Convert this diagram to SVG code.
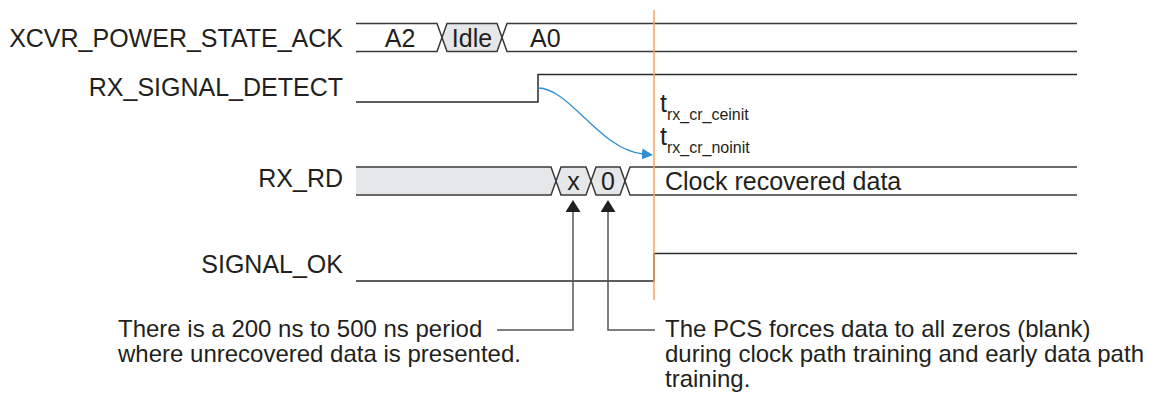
<svg xmlns="http://www.w3.org/2000/svg" width="1165" height="399" viewBox="0 0 1165 399">
<defs>
<style>
text{font-family:"Liberation Sans",Arial,sans-serif;fill:#231f20;}
.lbl{font-size:25px;text-anchor:end;}
.val{font-size:25px;text-anchor:middle;}
.txt{font-size:25px;}
.note{font-size:24px;}
.sub{font-size:16px;}
.bus{fill:none;stroke:#3a3a3a;stroke-width:1.5;}
.sig{fill:none;stroke:#2a2a2a;stroke-width:1.5;}
.shade{fill:#e6e7e8;stroke:none;}
.lead{fill:none;stroke:#555;stroke-width:1.5;}
</style>
<marker id="arrUp" viewBox="0 0 12 15" refX="0" refY="7.5" markerWidth="12" markerHeight="15" markerUnits="userSpaceOnUse" orient="auto"><path d="M0,0 L12,7.5 L0,15 z" fill="#231f20"/></marker>
<marker id="arrBlue" viewBox="0 0 11 11" refX="1" refY="5.5" markerWidth="11" markerHeight="11" markerUnits="userSpaceOnUse" orient="auto"><path d="M0,0 L11,5.5 L0,11 z" fill="#2f8fd0"/></marker>
</defs>
<rect width="1165" height="399" fill="#ffffff"/>

<g id="xcvr_power_state_ack">
<text class="lbl" x="343" y="47">XCVR_POWER_STATE_ACK</text>
<polygon class="shade" points="442,37.5 447,23.5 497,23.5 502,37.5 497,51.5 447,51.5"/>
<polyline class="bus" points="356,23.5 437,23.5 442,37.5 437,51.5 356,51.5"/>
<polygon class="bus" points="442,37.5 447,23.5 497,23.5 502,37.5 497,51.5 447,51.5"/>
<polyline class="bus" points="1077,23.5 507,23.5 502,37.5 507,51.5 1077,51.5"/>
<text class="val" x="400" y="47">A2</text>
<text class="val" x="472" y="47">Idle</text>
<text class="txt" x="530" y="47">A0</text>
</g>

<g id="rx_signal_detect">
<text class="lbl" x="343" y="96">RX_SIGNAL_DETECT</text>
<polyline class="sig" points="356,102 538,102 538,74.5 1077,74.5"/>
</g>

<g id="rx_rd">
<text class="lbl" x="343" y="187">RX_RD</text>
<polygon class="shade" points="356,167 551,167 556,181 551,195 356,195"/>
<polygon class="shade" points="556,181 561,167 586,167 591,181 586,195 561,195"/>
<polygon class="shade" points="591,181 596,167 620,167 625,181 620,195 596,195"/>
<polyline class="bus" points="356,167 551,167 556,181 551,195 356,195"/>
<polygon class="bus" points="556,181 561,167 586,167 591,181 586,195 561,195"/>
<polygon class="bus" points="591,181 596,167 620,167 625,181 620,195 596,195"/>
<polyline class="bus" points="1077,167 630,167 625,181 630,195 1077,195"/>
<text class="val" x="573.5" y="190">x</text>
<text class="val" x="608" y="190">0</text>
<text class="txt" x="665" y="190">Clock recovered data</text>
</g>

<g id="signal_ok">
<text class="lbl" x="343" y="273">SIGNAL_OK</text>
<polyline class="sig" points="356,281 654,281 654,253.5 1077,253.5"/>
</g>

<g id="timing_marker">
<line x1="654" y1="10" x2="654" y2="300" stroke="#f5a462" stroke-width="1.5"/>
<text class="txt" x="660" y="112">t<tspan class="sub" dy="8">rx_cr_ceinit</tspan></text>
<text class="txt" x="660" y="145">t<tspan class="sub" dy="8">rx_cr_noinit</tspan></text>
</g>

<g id="note_unrecovered">
<text class="note" x="118" y="337">There is a 200 ns to 500 ns period</text>
<text class="note" x="118" y="362">where unrecovered data is presented.</text>
</g>

<g id="note_zeros">
<text class="note" x="665" y="337">The PCS forces data to all zeros (blank)</text>
<text class="note" x="665" y="362">during clock path training and early data path</text>
<text class="note" x="665" y="387">training.</text>
</g>

<g id="connectors">
<path d="M538,88 C570,88 600,150 643,154" fill="none" stroke="#2f8fd0" stroke-width="1.3" marker-end="url(#arrBlue)"/>
<path class="lead" d="M497,330 H573 V212" marker-end="url(#arrUp)"/>
<path class="lead" d="M655,330 H608 V212" marker-end="url(#arrUp)"/>
</g>
</svg>
